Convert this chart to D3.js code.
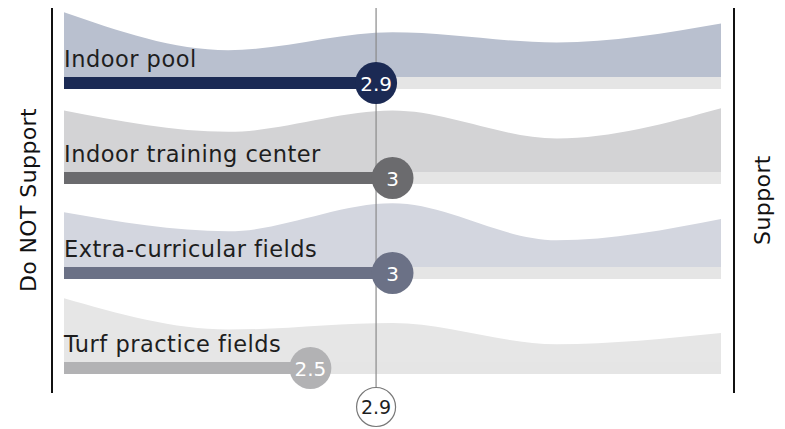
<!DOCTYPE html>
<html>
<head>
<meta charset="utf-8">
<script src="https://cdn.jsdelivr.net/npm/d3@7"></script>
<style>
  body { margin: 0; background: #fff; }
  text { font-family: "DejaVu Sans", sans-serif; }
</style>
</head>
<body>
<div id="chart-area"></div>
<script>
// ratings 1..5, average score per amenity, plus the response density curve
const categories = ["Indoor pool", "Indoor training center", "Extra-curricular fields", "Turf practice fields"];
const scores = [2.9, 3, 3, 2.5];
const ratings = [1, 2, 3, 4, 5];
const densityPool = [29, 12, 20, 15.5, 24];
const densityTraining = [27.5, 18, 27.5, 15, 28.5];
const densityExtra = [24.5, 16, 28.5, 12, 21.5];
const densityTurf = [28.5, 14.5, 17.5, 8, 13];
const overallAvg = 2.9;

const densities = [densityPool, densityTraining, densityExtra, densityTurf];
const areaColors = ["#b9c0cf", "#d3d3d5", "#d3d6df", "#e6e6e6"];
const barColors = ["#1b2a54", "#6b6b6e", "#6b7186", "#b2b2b4"];

const width = 785, height = 429;
const barH = 12;

let svg = d3.select("#chart-area")
  .append("svg")
  .attr("width", width)
  .attr("height", height);

// x scale: rating 1..5
let x = d3.scaleLinear()
  .domain([1, 5])
  .range([64, 721]);

// row baselines
let rowY = d3.scalePoint()
  .domain(categories)
  .range([77, 362]);

// density height
let h = d3.scaleLinear()
  .domain([0, 30])
  .range([0, 67]);

categories.forEach((cat, i) => {
  let base = rowY(cat);
  let pts = ratings.map((r, j) => ({r: r, v: densities[i][j]}));

  let area = d3.area()
    .x(d => x(d.r))
    .y0(base)
    .y1(d => base - h(d.v))
    .curve(d3.curveMonotoneX);

  svg.append("path")
    .datum(pts)
    .attr("d", area)
    .attr("fill", areaColors[i]);

  // track
  svg.append("rect")
    .attr("x", x(1))
    .attr("y", base)
    .attr("width", x(5) - x(1))
    .attr("height", barH)
    .attr("fill", "#e5e5e5");

  svg.append("text")
    .attr("x", x(1))
    .attr("y", base - 10)
    .attr("font-size", "22.5px")
    .attr("letter-spacing", "0.5px")
    .attr("fill", "#1e1e1e")
    .text(cat);
});

// average line
svg.append("line")
  .attr("x1", x(overallAvg)).attr("x2", x(overallAvg))
  .attr("y1", 8).attr("y2", 388)
  .attr("stroke", "#8a8a8a")
  .attr("stroke-width", 1.2);

categories.forEach((cat, i) => {
  let base = rowY(cat);
  svg.append("rect")
    .attr("x", x(1))
    .attr("y", base)
    .attr("width", x(scores[i]) - x(1))
    .attr("height", barH)
    .attr("fill", barColors[i]);

  svg.append("circle")
    .attr("cx", x(scores[i]))
    .attr("cy", base + barH / 2)
    .attr("r", 21)
    .attr("fill", barColors[i]);

  svg.append("text")
    .attr("x", x(scores[i]))
    .attr("y", base + barH / 2 + 8)
    .attr("text-anchor", "middle")
    .attr("font-size", "20px")
    .attr("fill", "#fff")
    .text(scores[i]);
});

// overall average bubble
svg.append("circle")
  .attr("cx", x(overallAvg))
  .attr("cy", 407)
  .attr("r", 19.5)
  .attr("fill", "#fff")
  .attr("stroke", "#777")
  .attr("stroke-width", 1.2);

svg.append("text")
  .attr("x", x(overallAvg))
  .attr("y", 414)
  .attr("text-anchor", "middle")
  .attr("font-size", "19px")
  .attr("fill", "#1e1e1e")
  .text(overallAvg);

// side axes
svg.append("line")
  .attr("x1", 52).attr("x2", 52)
  .attr("y1", 8).attr("y2", 393)
  .attr("stroke", "#111").attr("stroke-width", 2);

svg.append("line")
  .attr("x1", 734).attr("x2", 734)
  .attr("y1", 8).attr("y2", 393)
  .attr("stroke", "#111").attr("stroke-width", 2);

svg.append("text")
  .attr("transform", "translate(36,200) rotate(-90)")
  .attr("text-anchor", "middle")
  .attr("font-size", "22px")
  .attr("letter-spacing", "0.4px")
  .attr("fill", "#111")
  .text("Do NOT Support");

svg.append("text")
  .attr("transform", "translate(770,200) rotate(-90)")
  .attr("text-anchor", "middle")
  .attr("font-size", "22px")
  .attr("letter-spacing", "0.4px")
  .attr("fill", "#111")
  .text("Support");
</script>
</body>
</html>
